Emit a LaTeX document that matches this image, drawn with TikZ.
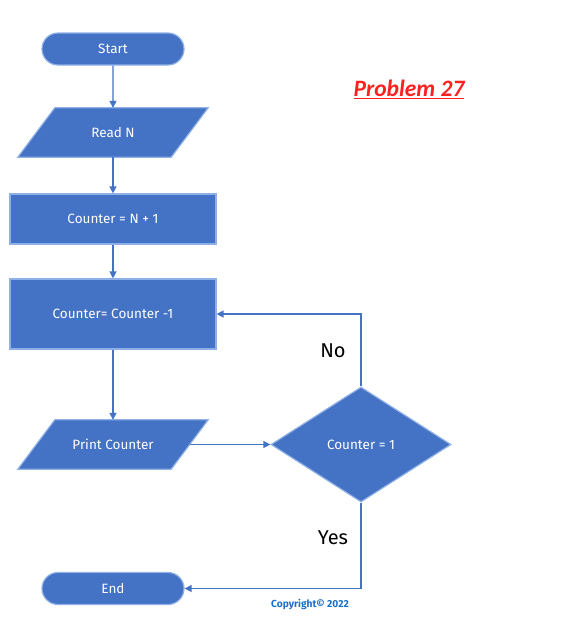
\documentclass[tikz,border=0pt]{standalone}
\usepackage{fontspec}
\setmainfont{Fira Sans}
\newfontfamily\titlefont{Carlito}
\usetikzlibrary{shapes.geometric,shapes.misc,arrows.meta}
\pgfdeclarelayer{background}
\pgfsetlayers{background,main}
\definecolor{boxfill}{HTML}{4472C4}
\definecolor{boxedge}{HTML}{8FB0E6}
\definecolor{linecol}{HTML}{4472C4}
\definecolor{titlered}{HTML}{FF2020}
\definecolor{copyblue}{HTML}{1F6FC8}
\begin{document}
\begin{tikzpicture}[x=1pt,y=-1pt,
  base/.style={fill=boxfill,draw=boxedge,line width=1.2pt,text=white,font=\fontsize{13.5}{16}\selectfont,inner sep=0pt},
  shapefill/.style={fill=boxfill,draw=boxedge,line width=1.2pt},
  terminal/.style={base,rounded rectangle,minimum width=142pt,minimum height=32pt},
  io/.style={text=white,font=\fontsize{13.5}{16}\selectfont,inner sep=0pt,rectangle,minimum width=153pt,minimum height=49pt},
  process/.style={base,rectangle,minimum width=206pt},
  decision/.style={base,diamond,aspect=1.565,minimum width=180pt,minimum height=115pt},
  arr/.style={draw=linecol,line width=1.3pt,-{Triangle[width=7pt,length=7pt]}},
  lbl/.style={text=black,font=\fontsize{20}{24}\selectfont}]
\useasboundingbox (0,0) rectangle (568,627);
\node[terminal] (start) at (113,49) {Start};
\node[io] (read) at (113,132.5) {Read N};
\node[process,minimum height=50pt] (init) at (113,219) {Counter = N + 1};
\node[process,minimum height=70pt] (dec) at (113,314) {Counter= Counter -1};
\node[io] (print) at (113,444.5) {Print Counter};
\node[decision] (test) at (361,444.5) {Counter = 1};
\node[terminal] (end) at (113,588.5) {End};
\begin{pgfonlayer}{background}
\foreach \n in {read,print}
  \filldraw[shapefill] ([xshift=18.5pt]\n.north west) -- ([xshift=18.5pt]\n.north east)
    -- ([xshift=-18.5pt]\n.south east) -- ([xshift=-18.5pt]\n.south west) -- cycle;
\end{pgfonlayer}
\draw[arr] (start) -- (read);
\draw[arr] (read) -- (init);
\draw[arr] (init) -- (dec);
\draw[arr] (dec) -- (print);
\draw[arr] (print.east) -- (test.west);
\draw[arr] (test.north) |- (dec.east);
\draw[arr] (test.south) |- (end.east);
\node[lbl] (no) at (333,351) {No};
\node[lbl] (yes) at (333,538) {Yes};
\node[text=titlered,font=\titlefont\bfseries\itshape\fontsize{23.5}{27}\selectfont] (title) at (409,89) {\underline{Problem 27}};
\node[text=copyblue,font=\bfseries\fontsize{10.2}{12}\selectfont] (copy) at (310,604) {Copyright© 2022};
\end{tikzpicture}
\end{document}
